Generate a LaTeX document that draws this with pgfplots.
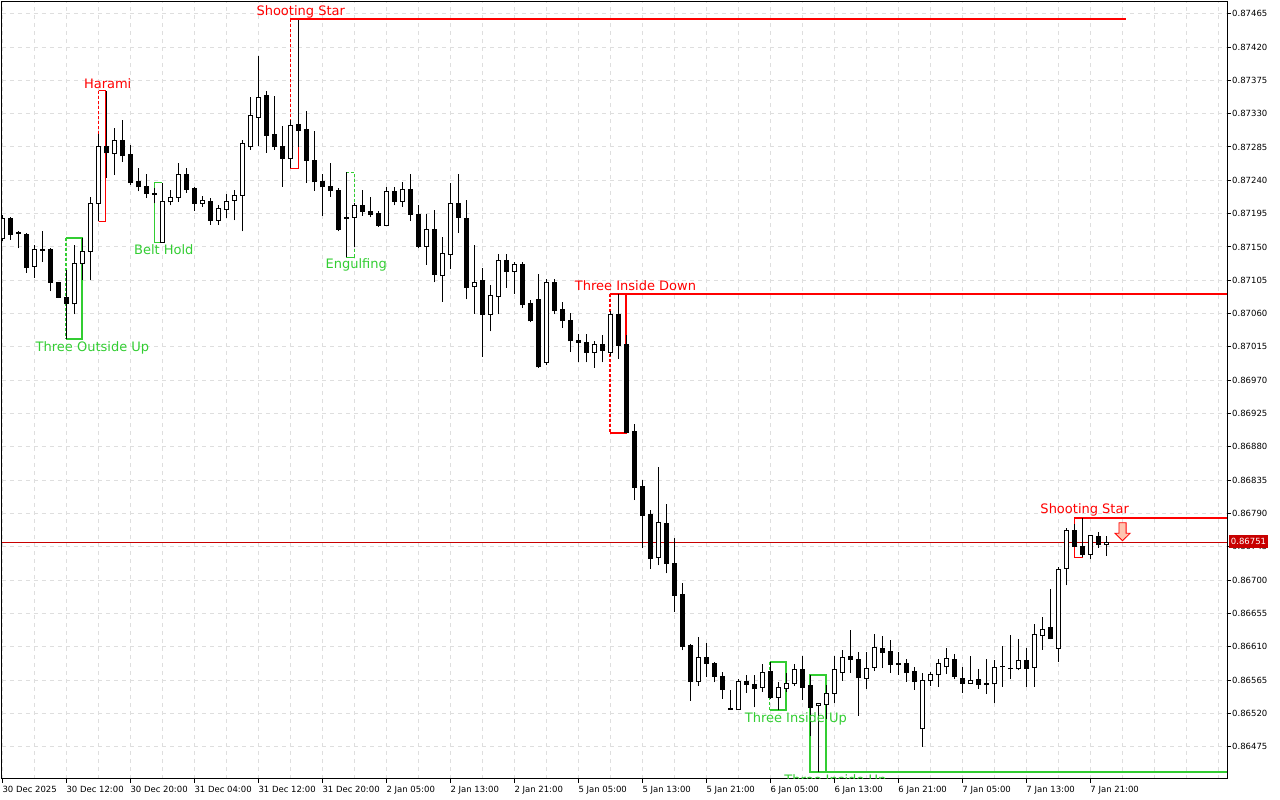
\documentclass[border=0pt]{standalone}
\usepackage{fontspec}
\setmainfont{DejaVu Sans}
\usepackage{pgfplots}
\usepackage{pgfplotstable}
\pgfplotsset{compat=1.18}

\definecolor{pgreen}{RGB}{50,205,50}
\definecolor{pred}{RGB}{255,0,0}
\definecolor{cline}{RGB}{200,0,0}
\definecolor{gridc}{RGB}{222,222,222}
\definecolor{arrowfill}{RGB}{255,196,176}

% H1 candles, bar index k, open high low close
% rising (white) candles
\pgfplotstableread{
k o h l c
0 0.87161 0.87193 0.87158 0.87189
4 0.87124 0.87152 0.87108 0.87146
9 0.87073 0.87153 0.87059 0.87128
10 0.87127 0.87162 0.87106 0.87144
11 0.87144 0.87218 0.87106 0.87209
12 0.87209 0.87303 0.87185 0.87285
14 0.87276 0.87310 0.87247 0.87294
20 0.87156 0.87237 0.87156 0.87211
21 0.87211 0.87227 0.87206 0.87217
22 0.87217 0.87263 0.87211 0.87248
25 0.87209 0.87219 0.87204 0.87213
27 0.87186 0.87206 0.87180 0.87202
28 0.87201 0.87221 0.87189 0.87212
29 0.87213 0.87227 0.87186 0.87220
30 0.87220 0.87294 0.87171 0.87290
31 0.87285 0.87353 0.87281 0.87327
32 0.87325 0.87408 0.87286 0.87352
36 0.87270 0.87321 0.87256 0.87314
44 0.87190 0.87209 0.87150 0.87206
48 0.87179 0.87231 0.87178 0.87225
50 0.87212 0.87238 0.87204 0.87228
53 0.87151 0.87194 0.87126 0.87174
55 0.87111 0.87164 0.87076 0.87141
56 0.87140 0.87236 0.87120 0.87208
59 0.87096 0.87153 0.87060 0.87102
61 0.87059 0.87099 0.87036 0.87084
62 0.87083 0.87140 0.87059 0.87131
64 0.87117 0.87130 0.87087 0.87126
68 0.86994 0.87107 0.86990 0.87102
74 0.87008 0.87023 0.86987 0.87018
76 0.87008 0.87063 0.87003 0.87059
82 0.86731 0.86853 0.86720 0.86778
87 0.86563 0.86623 0.86557 0.86596
92 0.86525 0.86567 0.86524 0.86563
95 0.86555 0.86587 0.86549 0.86575
97 0.86542 0.86563 0.86525 0.86555
98 0.86554 0.86574 0.86549 0.86561
99 0.86561 0.86587 0.86557 0.86579
102 0.86530 0.86534 0.86441 0.86533
103 0.86532 0.86558 0.86513 0.86547
104 0.86547 0.86597 0.86534 0.86579
105 0.86575 0.86605 0.86564 0.86596
108 0.86567 0.86603 0.86553 0.86581
109 0.86582 0.86627 0.86577 0.86609
115 0.86499 0.86575 0.86475 0.86565
116 0.86564 0.86576 0.86557 0.86572
117 0.86572 0.86593 0.86556 0.86587
118 0.86583 0.86608 0.86573 0.86594
121 0.86561 0.86598 0.86560 0.86564
124 0.86560 0.86592 0.86534 0.86582
125 0.86583 0.86611 0.86556 0.86584
127 0.86580 0.86621 0.86578 0.86591
129 0.86582 0.86641 0.86556 0.86626
130 0.86625 0.86650 0.86606 0.86633
132 0.86608 0.86718 0.86590 0.86715
133 0.86716 0.86771 0.86693 0.86767
136 0.86735 0.86761 0.86728 0.86760
138 0.86748 0.86760 0.86733 0.86751
}\bull

% falling (black) candles
\pgfplotstableread{
k o h l c
1 0.87188 0.87190 0.87160 0.87167
2 0.87169 0.87172 0.87148 0.87168
3 0.87167 0.87169 0.87115 0.87122
5 0.87146 0.87172 0.87130 0.87145
6 0.87147 0.87149 0.87090 0.87102
7 0.87102 0.87103 0.87081 0.87082
8 0.87082 0.87119 0.87026 0.87073
13 0.87286 0.87361 0.87243 0.87277
15 0.87294 0.87321 0.87265 0.87273
16 0.87275 0.87287 0.87234 0.87237
17 0.87238 0.87256 0.87225 0.87231
18 0.87231 0.87248 0.87216 0.87222
19 0.87222 0.87229 0.87209 0.87221
23 0.87248 0.87256 0.87223 0.87228
24 0.87229 0.87231 0.87199 0.87209
26 0.87212 0.87216 0.87180 0.87186
33 0.87354 0.87360 0.87277 0.87301
34 0.87302 0.87354 0.87281 0.87285
35 0.87286 0.87313 0.87231 0.87270
37 0.87316 0.87457 0.87285 0.87307
38 0.87309 0.87334 0.87236 0.87267
39 0.87267 0.87307 0.87226 0.87238
40 0.87238 0.87249 0.87192 0.87231
41 0.87231 0.87264 0.87218 0.87226
42 0.87226 0.87229 0.87171 0.87174
43 0.87190 0.87251 0.87136 0.87189
45 0.87206 0.87227 0.87192 0.87198
46 0.87198 0.87217 0.87190 0.87194
47 0.87195 0.87199 0.87177 0.87179
49 0.87225 0.87231 0.87206 0.87212
51 0.87228 0.87248 0.87185 0.87194
52 0.87194 0.87207 0.87148 0.87151
54 0.87173 0.87200 0.87102 0.87113
57 0.87208 0.87248 0.87169 0.87190
58 0.87189 0.87213 0.87079 0.87095
60 0.87104 0.87121 0.87002 0.87059
63 0.87131 0.87140 0.87095 0.87117
65 0.87126 0.87130 0.87068 0.87072
66 0.87073 0.87078 0.87048 0.87050
67 0.87079 0.87114 0.86987 0.86988
69 0.87102 0.87107 0.87059 0.87064
70 0.87066 0.87075 0.87041 0.87050
71 0.87051 0.87061 0.87008 0.87023
72 0.87024 0.87032 0.86994 0.87021
73 0.87021 0.87033 0.86994 0.87008
75 0.87018 0.87031 0.86994 0.87010
77 0.87059 0.87086 0.86999 0.87017
78 0.87018 0.87031 0.86899 0.86900
79 0.86901 0.86911 0.86808 0.86825
80 0.86826 0.86835 0.86743 0.86787
81 0.86788 0.86795 0.86715 0.86729
83 0.86777 0.86803 0.86709 0.86723
84 0.86723 0.86757 0.86657 0.86679
85 0.86680 0.86696 0.86605 0.86611
86 0.86612 0.86614 0.86537 0.86563
88 0.86596 0.86615 0.86569 0.86588
89 0.86588 0.86589 0.86562 0.86570
90 0.86570 0.86576 0.86540 0.86552
91 0.86526 0.86552 0.86525 0.86525
93 0.86563 0.86572 0.86548 0.86559
94 0.86559 0.86572 0.86528 0.86553
96 0.86577 0.86589 0.86540 0.86542
100 0.86579 0.86598 0.86538 0.86555
101 0.86558 0.86572 0.86489 0.86528
106 0.86597 0.86632 0.86575 0.86593
107 0.86593 0.86603 0.86517 0.86568
110 0.86608 0.86625 0.86581 0.86602
111 0.86604 0.86619 0.86575 0.86586
112 0.86587 0.86603 0.86572 0.86586
113 0.86587 0.86594 0.86563 0.86575
114 0.86576 0.86582 0.86552 0.86563
119 0.86593 0.86600 0.86566 0.86570
120 0.86567 0.86582 0.86548 0.86561
122 0.86566 0.86580 0.86553 0.86559
123 0.86560 0.86593 0.86546 0.86559
126 0.86581 0.86626 0.86566 0.86580
128 0.86591 0.86608 0.86556 0.86581
131 0.86636 0.86688 0.86620 0.86621
134 0.86767 0.86776 0.86745 0.86746
135 0.86746 0.86784 0.86731 0.86735
137 0.86759 0.86765 0.86744 0.86748
}\bear

\pgfplotsset{
  seg/.style 2 args={draw=none, mark=none, forget plot,
    error bars/.cd, y dir=plus, y explicit, error mark=none,
    error bar style={draw=#1, solid, line width=#2}},
}
\tikzset{
  lbl/.style={anchor=base, inner sep=0pt, font=\fontsize{13}{15}\selectfont},
  dsh/.style={dash pattern=on 3pt off 2pt},
}

\begin{document}
\begin{tikzpicture}
\path[use as bounding box] (0,0) rectangle (1280pt,800pt);
\begin{axis}[
  at={(2pt,21pt)}, anchor=south west,
  scale only axis, width=1225pt, height=777pt,
  xmin=-0.04, xmax=153.09, ymin=0.864314, ymax=0.874808,
  axis line style={black, line width=1pt},
  tick style={black, line width=1pt},
  tick align=outside, xtick pos=left, ytick pos=right,
  xticklabel pos=left, yticklabel pos=right,
  major tick length=4pt, minor tick length=0pt,
  xtick={0,8,...,136},
  minor xtick={4,12,...,132,140,144,148,152},
  xticklabels={30 Dec 2025, 30 Dec 12:00, 30 Dec 20:00, 31 Dec 04:00, 31 Dec 12:00, 31 Dec 20:00, 2 Jan 05:00, 2 Jan 13:00, 2 Jan 21:00, 5 Jan 05:00, 5 Jan 13:00, 5 Jan 21:00, 6 Jan 05:00, 6 Jan 13:00, 6 Jan 21:00, 7 Jan 05:00, 7 Jan 13:00, 7 Jan 21:00},
  ytick={0.86475,0.86520,0.86565,0.86610,0.86655,0.86700,0.86745,0.86790,0.86835,0.86880,0.86925,0.86970,0.87015,0.87060,0.87105,0.87150,0.87195,0.87240,0.87285,0.87330,0.87375,0.87420,0.87465},
  yticklabels={0.86475,0.86520,0.86565,0.86610,0.86655,0.86700,0.86745,0.86790,0.86835,0.86880,0.86925,0.86970,0.87015,0.87060,0.87105,0.87150,0.87195,0.87240,0.87285,0.87330,0.87375,0.87420,0.87465},
  grid=both,
  major grid style={draw=gridc, line width=1pt, dash pattern=on 4pt off 4pt},
  minor grid style={draw=gridc, line width=1pt, dash pattern=on 4pt off 4pt},
  tick label style={font=\fontsize{8.5}{10}\selectfont, text=black},
  xticklabel style={anchor=north west, inner sep=0pt, yshift=-2.5pt},
  yticklabel style={anchor=west, inner sep=0pt, xshift=1pt},
]
% pattern boxes
\draw[pgreen, line width=2pt] (axis cs:7.95,0.871621) -- (axis cs:9.98,0.871621) -- (axis cs:9.98,0.870261) -- (axis cs:7.95,0.870261);
\draw[pgreen, line width=1.3pt, dsh] (axis cs:7.95,0.871621) -- (axis cs:7.95,0.870261);
\draw[pred, line width=1pt] (axis cs:12.05,0.873606) -- (axis cs:12.96,0.873606) -- (axis cs:12.96,0.871850) -- (axis cs:12.05,0.871850);
\draw[pred, line width=1pt, dsh] (axis cs:12.05,0.873606) -- (axis cs:12.05,0.871850);
\draw[pgreen, line width=1pt] (axis cs:20,0.872373) -- (axis cs:19,0.872373) -- (axis cs:19,0.871563) -- (axis cs:20,0.871563);
\draw[pred, line width=1pt, dsh] (axis cs:36,0.874574) -- (axis cs:36,0.872562);
\draw[pred, line width=1pt] (axis cs:36,0.872562) -- (axis cs:37,0.872562) -- (axis cs:37,0.874574);
\draw[pred, line width=2pt] (axis cs:36,0.874574) -- (axis cs:140.46,0.874574);
\draw[pgreen, line width=1pt, dsh] (axis cs:43,0.872508) -- (axis cs:44.05,0.872508) -- (axis cs:44.05,0.871360);
\draw[pgreen, line width=1pt] (axis cs:43,0.871360) -- (axis cs:44.05,0.871360);
\draw[pred, line width=2pt] (axis cs:75.9,0.870860) -- (axis cs:77.95,0.870860) -- (axis cs:77.95,0.868991) -- (axis cs:75.9,0.868991);
\draw[pred, line width=2pt, dsh] (axis cs:75.9,0.870860) -- (axis cs:75.9,0.868991);
\draw[pred, line width=2pt] (axis cs:77.95,0.870860) -- (axis cs:153.09,0.870860);
\draw[pgreen, line width=2pt] (axis cs:95.93,0.865890) -- (axis cs:97.96,0.865890) -- (axis cs:97.96,0.865246) -- (axis cs:95.93,0.865246);
\draw[pgreen, line width=1.3pt, dsh] (axis cs:95.93,0.865890) -- (axis cs:95.93,0.865246);
\draw[pgreen, line width=2pt] (axis cs:100.96,0.865723) rectangle (axis cs:102.93,0.864408);
\draw[pgreen, line width=2pt] (axis cs:100.96,0.864408) -- (axis cs:153.09,0.864408);
\draw[pred, line width=1pt] (axis cs:134,0.867843) -- (axis cs:134,0.867308) -- (axis cs:135,0.867308) -- (axis cs:135,0.867843);
\draw[pred, line width=2pt] (axis cs:134,0.867843) -- (axis cs:153.09,0.867843);

% last price
\addplot[cline, line width=1pt, forget plot] coordinates {(-0.04,0.86751) (153.09,0.86751)};

% wicks
\addplot[seg={black}{1pt}] table[x=k, y=l, y error plus expr={\thisrow{h}-\thisrow{l}}] {\bull};
\addplot[seg={black}{1pt}] table[x=k, y=l, y error plus expr={\thisrow{h}-\thisrow{l}}] {\bear};
% bodies
\addplot[seg={black}{5pt}] table[x=k, y expr={\thisrow{c}-0.0000068}, y error plus expr={\thisrow{o}-\thisrow{c}+0.0000135}] {\bear};
\addplot[seg={black}{5pt}] table[x=k, y expr={\thisrow{o}-0.0000068}, y error plus expr={\thisrow{c}-\thisrow{o}+0.0000135}] {\bull};
\addplot[seg={white}{3pt}] table[x=k, y expr={\thisrow{o}+0.0000068}, y error plus expr={max(\thisrow{c}-\thisrow{o}-0.0000135,0)}] {\bull};

% labels
\node[lbl, text=pred] at (axis cs:13.17,0.873642) {Harami};
\node[lbl, text=pgreen] at (axis cs:11.27,0.870085) {Three Outside Up};
\node[lbl, text=pgreen] at (axis cs:20.19,0.871391) {Belt Hold};
\node[lbl, text=pred] at (axis cs:37.3,0.874632) {Shooting Star};
\node[lbl, text=pgreen] at (axis cs:44.24,0.871206) {Engulfing};
\node[lbl, text=pred] at (axis cs:79.15,0.870909) {Three Inside Down};
\node[lbl, text=pgreen] at (axis cs:99.19,0.865077) {Three Inside Up};
\node[lbl, text=pred] at (axis cs:135.3,0.867893) {Shooting Star};

% sell arrow
\draw[pred, fill=arrowfill, line width=0.8pt] (axis cs:140.03,0.867775) ++(-3.6pt,0pt) -- ++(7.2pt,0pt) -- ++(0pt,-10.6pt) -- ++(3.9pt,0pt) -- ++(-7.5pt,-7.4pt) -- ++(-7.5pt,7.4pt) -- ++(3.9pt,0pt) -- cycle;
\end{axis}
% label cut by the lower frame edge
\begin{scope}
\clip (2pt,21.5pt) rectangle (1227pt,798pt);
\node[lbl, text=pgreen] at (835.3pt,15.5pt) {Three Inside Up};
\end{scope}
\node[fill=cline, text=white, inner sep=0pt, minimum width=39pt, minimum height=13pt, font=\fontsize{8.5}{10}\selectfont] at (1248.5pt,258.5pt) {0.86751};
\end{tikzpicture}
\end{document}
